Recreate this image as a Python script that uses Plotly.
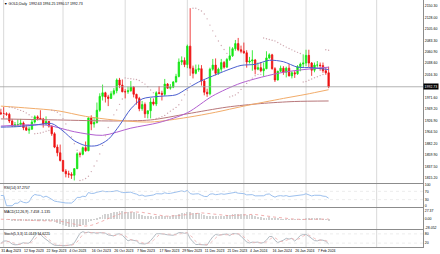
import numpy as np
import pandas as pd
import plotly.graph_objects as go
from plotly.subplots import make_subplots

# ---------------- data ----------------
holidays = ["2023-12-25", "2024-01-01"]
dates = [d for d in pd.bdate_range("2023-08-31", "2024-02-13") if d.strftime("%Y-%m-%d") not in holidays]

opens = [1942,1940,1940,1939,1926,1916,1919,1919,1922,1913,1908,1910,1924,1934,1931,1930,1920,1925,1916,1901,1875,1864,
         1849,1828,1823,1822,1820,1833,1862,1861,1874,1868,1932,1920,1923,1947,1974,1981,1973,1970,1979,1985,2006,1996,
         1983,1983,1985,1992,1978,1970,1950,1958,1940,1946,1963,1959,1981,1980,1978,1998,1990,1992,2002,2013,2041,2044,
         2036,2072,2029,2019,2026,2028,2004,1982,1979,2027,2035,2019,2027,2040,2031,2046,2053,2067,2077,2065,
         2062,2059,2041,2043,2045,2027,2030,2024,2028,2049,2055,2028,2006,2023,2029,2021,2029,2014,2020,2018,2032,2037,
         2039,2054,2039,2025,2035,2035,2034,2024,2020]
highs = [1949,1953,1943,1942,1930,1924,1929,1930,1925,1918,1915,1928,1937,1937,1947,1932,1935,1926,1917,1904,1880,1880,
         1850,1832,1829,1826,1834,1865,1866,1876,1886,1933,1937,1933,1962,1980,1997,1983,1977,1984,1990,2009,2010,2007,
         1988,1993,2004,1994,1979,1973,1965,1962,1946,1971,1970,1984,1994,1985,2008,2000,1998,2004,2018,2048,2052,2050,
         2075,2146,2034,2036,2036,2035,2006,1989,2030,2047,2048,2030,2047,2043,2049,2071,2070,2084,2088,2073,
         2079,2064,2051,2064,2047,2040,2041,2040,2062,2058,2057,2031,2024,2034,2033,2032,2037,2023,2024,2035,2040,2056,
         2065,2065,2041,2040,2043,2040,2040,2031,2032]
lows = [1938,1931,1936,1922,1915,1914,1915,1917,1908,1907,1901,1909,1921,1927,1928,1913,1918,1913,1897,1873,1857,1847,
        1827,1816,1815,1813,1810,1832,1855,1859,1866,1867,1908,1913,1921,1944,1966,1962,1955,1969,1976,1980,1990,1982,
        1970,1979,1983,1972,1958,1945,1946,1932,1931,1931,1956,1955,1978,1966,1975,1989,1987,1990,2001,2011,2035,2031,
        2029,2014,2009,2017,2022,1995,1976,1973,1976,2024,2015,2016,2022,2028,2030,2043,2051,2063,2062,2058,
        2057,2030,2038,2024,2017,2025,2021,2013,2027,2047,2026,2002,2005,2021,2016,2011,2013,2009,2010,2016,2023,2030,
        2033,2031,2014,2021,2030,2024,2020,2016,1990]
closes = [1940,1940,1939,1926,1916,1919,1919,1922,1913,1908,1910,1924,1934,1931,1930,1920,1925,1916,1901,1875,1864,1849,
          1828,1823,1822,1820,1833,1862,1861,1874,1868,1932,1920,1923,1947,1974,1981,1973,1970,1979,1985,2006,1996,1983,
          1983,1985,1992,1978,1970,1950,1958,1940,1946,1963,1959,1981,1980,1978,1998,1990,1992,2002,2013,2041,2044,2036,
          2072,2029,2019,2026,2028,2004,1982,1979,2027,2035,2019,2027,2040,2031,2046,2053,2067,2077,2065,2062,
          2059,2041,2043,2045,2027,2030,2024,2028,2049,2055,2028,2006,2023,2029,2021,2029,2014,2020,2018,2032,2037,2039,
          2054,2039,2025,2035,2035,2034,2024,2020,1992.73]

# moving averages (bar index, price)
ma20_bars = [0, 6, 12, 18, 22, 26, 30, 34, 38, 42, 46, 50, 56, 62, 66, 70, 75, 80, 85, 90, 95, 100, 105, 110, 116]
ma20_vals = [1914, 1915, 1918, 1921, 1906.5, 1887.4, 1878, 1878, 1890, 1917.5, 1949.7, 1969, 1974, 1977, 1989.5,
             2002, 2013.8, 2025, 2034.4, 2036.5, 2044.4, 2041.6, 2031, 2030, 2026.3]
ma50_bars = [0, 16, 26, 36, 46, 56, 66, 75, 85, 100, 116]
ma50_vals = [1916, 1918, 1905, 1898, 1912, 1923, 1942, 1975, 2000, 2021, 2031]
ma100_bars = [0, 10, 20, 30, 40, 53, 66, 76, 86, 100, 108, 116]
ma100_vals = [1955, 1951, 1946, 1935, 1928, 1924, 1933, 1943, 1955, 1970, 1978, 1987]
ma200_bars = [0, 20, 40, 53, 66, 80, 92, 104, 116]
ma200_vals = [1930, 1928, 1926, 1928, 1940, 1953, 1960, 1964, 1965]

price_ticks = [2150.30, 2128.00, 2105.60, 2083.30, 2060.90, 2038.60, 2016.30,
               1971.60, 1949.20, 1926.90, 1904.50, 1882.20, 1859.90, 1837.50, 1815.20]

title_text = "\u25bc GOLD,Daily  1992.63 1994.25 1990.17 1992.73"
rsi_text = "RSI(14) 37.2707"
macd_text = "MACD(12,26,9) -7.458 -1.135"
stoch_text = "Stoch(5,3,3) 11.0149 14.6221"

# ---------------- indicators ----------------
bars = list(range(len(dates)))
c = pd.Series(closes, dtype=float)
h = pd.Series(highs, dtype=float)
l = pd.Series(lows, dtype=float)

d = c.diff().fillna(0)
gain = d.clip(lower=0).ewm(alpha=1/14, adjust=True).mean()
loss = (-d.clip(upper=0)).ewm(alpha=1/14, adjust=True).mean()
rsi = (100 - 100 / (1 + gain / loss.replace(0, np.nan))).fillna(50)

macd = c.ewm(span=12, adjust=False).mean() - c.ewm(span=26, adjust=False).mean()
signal = macd.rolling(9, min_periods=1).mean()

ll = l.rolling(5, min_periods=1).min()
hh = h.rolling(5, min_periods=1).max()
k = 100 * (c - ll).rolling(3, min_periods=1).sum() / (hh - ll).rolling(3, min_periods=1).sum()
ksig = k.rolling(3, min_periods=1).mean()


def psar(hi, lo, step=0.02, mx=0.2):
    n = len(hi)
    out = [np.nan] * n
    up = False
    af = step
    ep = lo[0]
    s = hi[0]
    out[0] = s
    for i in range(1, n):
        s = s + af * (ep - s)
        if up:
            s = min(s, lo[i - 1], lo[max(i - 2, 0)])
            if lo[i] < s:
                up, s, ep, af = False, ep, lo[i], step
            elif hi[i] > ep:
                ep, af = hi[i], min(af + step, mx)
        else:
            s = max(s, hi[i - 1], hi[max(i - 2, 0)])
            if hi[i] > s:
                up, s, ep, af = True, ep, hi[i], step
            elif lo[i] < ep:
                ep, af = lo[i], min(af + step, mx)
        out[i] = s
    return out


sar = psar(highs, lows)

# time axis helpers
future = pd.date_range(dates[-1] + pd.Timedelta(days=1), periods=40, freq="D")
all_dates = list(dates) + list(future)
grid_bars = [i for i in range(1, len(all_dates)) if all_dates[i].month != all_dates[i - 1].month]
label_bars = bars[::8]
label_text = [f"{dates[i].day} {dates[i].strftime('%b %Y')}" for i in label_bars]

# ---------------- figure ----------------
W, H = 440, 254
ML, MR, MT, MB = 0, 17, 0, 7
PH = H - MT - MB
FONT = "Liberation Sans, Arial, sans-serif"
FS = 3.5
BORDER = "#8c8c8c"
GRID = "#dadada"


def dom(top_px, bot_px):
    return [(PH - bot_px) / PH, (PH - top_px) / PH]


panels = [dom(0, 183), dom(184, 207), dom(208, 229), dom(230, 247)]

fig = make_subplots(rows=4, cols=1, shared_xaxes=True, vertical_spacing=0.01)

BULL = "#12e612"
BEAR = "#ee1111"
fig.add_trace(go.Candlestick(x=bars, open=opens, high=highs, low=lows, close=closes,
                             increasing=dict(line=dict(color=BULL, width=0.8), fillcolor=BULL),
                             decreasing=dict(line=dict(color=BEAR, width=0.8), fillcolor=BEAR),
                             whiskerwidth=0, showlegend=False, hoverinfo="skip"), row=1, col=1)

for xs, ys, col in [(ma200_bars, ma200_vals, "#b8777a"), (ma100_bars, ma100_vals, "#f2ac6a"),
                    (ma50_bars, ma50_vals, "#b25fd0"), (ma20_bars, ma20_vals, "#4b5fd0")]:
    fig.add_trace(go.Scatter(x=xs, y=ys, mode="lines", line=dict(color=col, width=1, shape="spline", smoothing=0.8),
                             showlegend=False, hoverinfo="skip"), row=1, col=1)

fig.add_trace(go.Scatter(x=bars, y=sar, mode="markers", marker=dict(size=1.4, color="#cfa8b0"),
                         showlegend=False, hoverinfo="skip"), row=1, col=1)

# RSI
fig.add_trace(go.Scatter(x=bars, y=rsi, mode="lines", line=dict(color="#9cc0ee", width=1),
                         showlegend=False, hoverinfo="skip"), row=2, col=1)
# MACD
fig.add_trace(go.Bar(x=bars, y=macd, marker=dict(color="#d2d2d2", line=dict(width=0)), width=0.3,
                     showlegend=False, hoverinfo="skip"), row=3, col=1)
fig.add_trace(go.Scatter(x=bars, y=signal, mode="lines", line=dict(color="#ee9a9a", width=0.8, dash="dot"),
                         showlegend=False, hoverinfo="skip"), row=3, col=1)
# Stochastic
fig.add_trace(go.Scatter(x=bars, y=k, mode="lines", line=dict(color="#b4bcc4", width=1),
                         showlegend=False, hoverinfo="skip"), row=4, col=1)
fig.add_trace(go.Scatter(x=bars, y=ksig, mode="lines", line=dict(color="#eeb0b0", width=0.8, dash="dot"),
                         showlegend=False, hoverinfo="skip"), row=4, col=1)

for b in grid_bars:
    fig.add_vline(x=b, line=dict(color=GRID, width=1), layer="below", row="all", col=1)

fig.add_hline(y=closes[-1], line=dict(color="#a0a0a0", width=0.8), row=1, col=1)

xr = [-0.3, 149.4]
for i, dm in enumerate(panels, start=1):
    fig.update_xaxes(row=i, col=1, range=xr, showgrid=False, zeroline=False, showline=True, mirror=True,
                     linecolor=BORDER, linewidth=1, ticks="", showticklabels=(i == 4),
                     rangeslider_visible=False)
    fig.update_yaxes(row=i, col=1, domain=dm, side="right", showgrid=False, zeroline=False, showline=True,
                     linecolor=BORDER, linewidth=1, ticks="", tickfont=dict(size=FS, color="#000000", family=FONT))

fig.update_xaxes(row=4, col=1, tickmode="array", tickvals=label_bars, ticktext=label_text, tickangle=0,
                 ticklabelposition="outside right", ticklabelstandoff=0,
                 tickfont=dict(size=FS, color="#000000", family=FONT))

fig.update_yaxes(row=1, col=1, range=[1805, 2162], tickmode="array", tickvals=price_ticks,
                 ticktext=[f"{v:.2f}" for v in price_ticks])
fig.update_yaxes(row=2, col=1, range=[-6, 106], tickmode="array", tickvals=[100, 70, 30, 0],
                 ticktext=["100", "70", "30", "0"])
for lv in [70, 30]:
    fig.add_hline(y=lv, line=dict(color="#e0e0e0", width=0.6, dash="dot"), row=2, col=1)
mmax, mmin = float(macd.max()), float(macd.min())
pad = 0.2 * (mmax - mmin)
fig.update_yaxes(row=3, col=1, range=[mmin - pad * 0.5, mmax + pad], tickmode="array", tickvals=[mmax, 0, mmin],
                 ticktext=[f"{mmax:.2f}", "0.00", f"{mmin:.3f}"])
fig.update_yaxes(row=4, col=1, range=[-5, 105], tickmode="array", tickvals=[80, 20], ticktext=["80", "20"])
for lv in [80, 20]:
    fig.add_hline(y=lv, line=dict(color="#e0e0e0", width=0.6, dash="dot"), row=4, col=1)

ann = []
ann.append(dict(x=0.004, y=panels[0][1], xref="paper", yref="paper", xanchor="left", yanchor="top",
                text=title_text, showarrow=False, font=dict(size=FS, color="#000000", family=FONT)))
for txt, dm in [(rsi_text, panels[1]), (macd_text, panels[2]), (stoch_text, panels[3])]:
    ann.append(dict(x=0.004, y=dm[1], xref="paper", yref="paper", xanchor="left", yanchor="top",
                    text=txt, showarrow=False, font=dict(size=FS, color="#000000", family=FONT)))
ann.append(dict(x=1, y=closes[-1], xref="paper", yref="y", xanchor="left", yanchor="middle",
                text=f"{closes[-1]:.2f}", showarrow=False, bgcolor="#000000", borderpad=0.6,
                font=dict(size=FS, color="#ffffff", family=FONT)))

fig.update_layout(width=W, height=H, margin=dict(l=ML, r=MR, t=MT, b=MB), paper_bgcolor="#ffffff",
                  plot_bgcolor="#ffffff", annotations=ann, showlegend=False, bargap=0)

fig.write_html("out.html")
